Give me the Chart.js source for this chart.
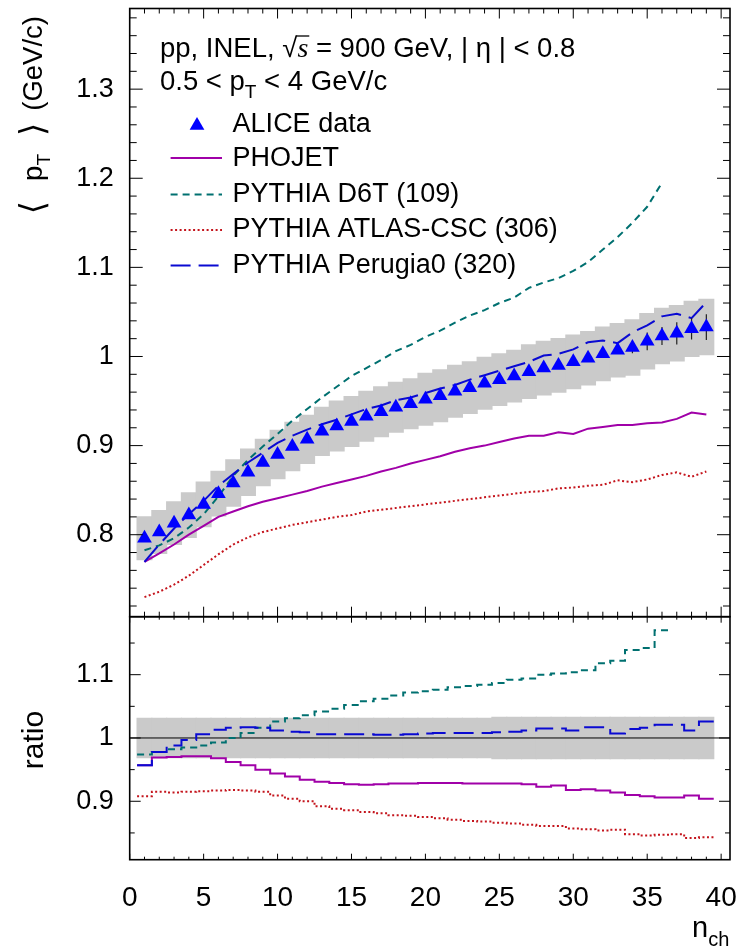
<!DOCTYPE html>
<html>
<head>
<meta charset="utf-8">
<script src="https://cdn.jsdelivr.net/npm/chart.js@4.4.1/dist/chart.umd.min.js"></script>
<style>
  body { margin: 0; background: #fff; }
  #page { position: relative; width: 741px; height: 951px; }
  .panneau { position: absolute; left: 0; }
</style>
</head>
<body>
<div id="page">
  <canvas id="haut" class="panneau" style="top:0" width="741" height="640"></canvas>
  <canvas id="bas" class="panneau" style="top:590px" width="741" height="361"></canvas>
</div>
<script>
// multiplicité chargée
const nch = [1, 2, 3, 4, 5, 6, 7, 8, 9, 10, 11, 12, 13, 14, 15, 16, 17, 18, 19, 20,
  21, 22, 23, 24, 25, 26, 27, 28, 29, 30, 31, 32, 33, 34, 35, 36, 37, 38, 39];

// <pT> ALICE (GeV/c), erreurs stat et syst
const aliceData = [0.796, 0.803, 0.813, 0.822, 0.834, 0.846, 0.858, 0.870, 0.881, 0.890,
  0.899, 0.907, 0.916, 0.922, 0.927, 0.933, 0.938, 0.943, 0.947, 0.952,
  0.956, 0.961, 0.965, 0.970, 0.974, 0.978, 0.983, 0.987, 0.990, 0.994,
  0.998, 1.003, 1.007, 1.010, 1.017, 1.023, 1.026, 1.031, 1.033];
const aliceStat = [0.002, 0.002, 0.002, 0.002, 0.002, 0.002, 0.002, 0.002, 0.002, 0.002,
  0.002, 0.002, 0.002, 0.002, 0.002, 0.002, 0.002, 0.003, 0.003, 0.003,
  0.003, 0.003, 0.003, 0.003, 0.003, 0.003, 0.003, 0.003, 0.003, 0.004,
  0.004, 0.004, 0.004, 0.0065, 0.010, 0.010, 0.0125, 0.012, 0.0145];
const aliceSyst = [0.024, 0.024, 0.024, 0.025, 0.025, 0.025, 0.026, 0.026, 0.026, 0.027,
  0.027, 0.027, 0.027, 0.028, 0.028, 0.028, 0.028, 0.028, 0.028, 0.029,
  0.029, 0.029, 0.029, 0.029, 0.029, 0.029, 0.030, 0.030, 0.030, 0.030,
  0.030, 0.030, 0.030, 0.031, 0.031, 0.031, 0.031, 0.031, 0.031];

// modèles
const phojet = [0.7695, 0.779, 0.789, 0.800, 0.810, 0.820, 0.826, 0.832, 0.837, 0.841,
  0.845, 0.849, 0.854, 0.858, 0.862, 0.866, 0.871, 0.875, 0.880, 0.884,
  0.888, 0.893, 0.897, 0.900, 0.904, 0.908, 0.911, 0.911, 0.915, 0.913,
  0.919, 0.921, 0.923, 0.923, 0.925, 0.926, 0.930, 0.937, 0.935];
const d6t = [0.7825, 0.788, 0.796, 0.808, 0.823, 0.843, 0.866, 0.884, 0.899, 0.913,
  0.928, 0.941, 0.954, 0.966, 0.978, 0.987, 0.996, 1.006, 1.013, 1.022,
  1.029, 1.038, 1.046, 1.052, 1.060, 1.066, 1.077, 1.083, 1.088, 1.096,
  1.106, 1.120, 1.134, 1.150, 1.168, 1.195];
const atlasCsc = [0.730, 0.736, 0.744, 0.754, 0.766, 0.778, 0.789, 0.797, 0.803, 0.807,
  0.811, 0.814, 0.817, 0.820, 0.822, 0.826, 0.828, 0.830, 0.832, 0.834,
  0.836, 0.838, 0.840, 0.842, 0.844, 0.846, 0.848, 0.849, 0.852, 0.853,
  0.855, 0.856, 0.861, 0.859, 0.862, 0.867, 0.870, 0.865, 0.871];
const perugia0 = [0.7695, 0.789, 0.807, 0.823, 0.838, 0.855, 0.868, 0.881, 0.892, 0.903,
  0.911, 0.918, 0.924, 0.929, 0.935, 0.941, 0.945, 0.951, 0.954, 0.959,
  0.964, 0.968, 0.974, 0.979, 0.984, 0.989, 0.994, 1.001, 1.003, 1.008,
  1.016, 1.018, 1.015, 1.027, 1.035, 1.045, 1.048, 1.043, 1.061];

// rapports modèle / données
const ratioPhojet = [0.957, 0.969, 0.970, 0.971, 0.971, 0.968, 0.962, 0.957, 0.950, 0.944,
  0.939, 0.934, 0.931, 0.929, 0.927, 0.926, 0.927, 0.928, 0.928, 0.929,
  0.929, 0.929, 0.928, 0.928, 0.928, 0.928, 0.927, 0.923, 0.925, 0.918,
  0.919, 0.917, 0.914, 0.910, 0.908, 0.906, 0.906, 0.909, 0.904];
const ratioD6t = [0.974, 0.978, 0.982, 0.985, 0.988, 0.993, 1.000, 1.008, 1.016, 1.026,
  1.031, 1.036, 1.042, 1.046, 1.052, 1.058, 1.062, 1.067, 1.072, 1.074,
  1.076, 1.080, 1.082, 1.084, 1.087, 1.092, 1.094, 1.100, 1.102, 1.104,
  1.107, 1.118, 1.122, 1.139, 1.142, 1.170];
const ratioAtlas = [0.908, 0.915, 0.914, 0.915, 0.916, 0.917, 0.918, 0.917, 0.915, 0.909,
  0.904, 0.900, 0.892, 0.888, 0.886, 0.883, 0.881, 0.878, 0.877, 0.875,
  0.873, 0.871, 0.869, 0.868, 0.866, 0.865, 0.863, 0.861, 0.861, 0.857,
  0.856, 0.854, 0.855, 0.848, 0.846, 0.847, 0.848, 0.842, 0.843];
const ratioPerugia = [0.957, 0.978, 0.988, 0.997, 1.006, 1.013, 1.016, 1.017, 1.016, 1.012,
  1.010, 1.009, 1.006, 1.006, 1.006, 1.006, 1.005, 1.005, 1.006, 1.007,
  1.008, 1.008, 1.008, 1.008, 1.009, 1.010, 1.012, 1.015, 1.015, 1.012,
  1.017, 1.017, 1.007, 1.014, 1.016, 1.021, 1.021, 1.012, 1.026];
const ratioSyst = [0.031, 0.031, 0.031, 0.031, 0.031, 0.031, 0.031, 0.031, 0.031, 0.031,
  0.031, 0.031, 0.031, 0.031, 0.031, 0.031, 0.031, 0.031, 0.031, 0.031,
  0.031, 0.031, 0.031, 0.031, 0.0325, 0.0325, 0.0325, 0.0325, 0.0325, 0.0325,
  0.0325, 0.0325, 0.0325, 0.0325, 0.0325, 0.0325, 0.0325, 0.0325, 0.0325];

// graduations
const xTicks = [0, 5, 10, 15, 20, 25, 30, 35, 40];
const yTicksHaut = [0.8, 0.9, 1, 1.1, 1.2, 1.3];
const yTicksBas = [0.9, 1, 1.1];

const POLICE = '"Liberation Sans", Arial, Helvetica, sans-serif';
const SERIF = '"Liberation Serif", "Times New Roman", serif';
const GRIS = "#cacaca";
const VIOLET = "#a000a8";
const SARCELLE = "#007070";
const ROUGE = "#c4141c";
const BLEU = "#0a0ad2";

function pointsCentres(valeurs) {
  return valeurs.map((v, i) => ({ x: nch[i], y: v }));
}

// histogramme : un point par bord gauche de bin, plus le dernier bord droit
function pointsMarches(valeurs) {
  const pts = valeurs.map((v, i) => ({ x: nch[i] - 0.5, y: v }));
  const der = valeurs.length - 1;
  pts.push({ x: nch[der] + 0.5, y: valeurs[der] });
  return pts;
}

function boites(centres, demi) {
  return demi.map((s, i) => ({ x: nch[i], y: [centres[i] - s, centres[i] + s] }));
}

function echelleX(visible, hauteur) {
  return {
    type: "linear", min: 0, max: 40.6, display: visible, offset: false,
    grid: { display: false, drawTicks: false, offset: false },
    border: { display: false },
    afterBuildTicks: s => { s.ticks = xTicks.map(v => ({ value: v })); },
    afterFit: s => { s.height = hauteur; s.paddingLeft = 0; s.paddingRight = 0; },
    ticks: { color: "#000", padding: 22, maxRotation: 0, autoSkip: false,
      font: { family: POLICE, size: 28 } }
  };
}

function echelleY(min, max, ticks) {
  return {
    type: "linear", min: min, max: max,
    grid: { display: false, drawTicks: false },
    border: { display: false },
    afterBuildTicks: s => { s.ticks = ticks.map(v => ({ value: v })); },
    afterFit: s => { s.width = 129.7; s.paddingTop = 0; s.paddingBottom = 0; },
    ticks: { color: "#000", padding: 16, font: { family: POLICE, size: 27 },
      callback: v => String(v) }
  };
}

// texte avec indices : morceaux {t, taille, dy, style, famille, apres}
function texteRiche(ctx, morceaux, x, y) {
  let cx = x;
  morceaux.forEach(m => {
    ctx.font = (m.style || "") + " " + m.taille + "px " + (m.famille || POLICE);
    if (m.t) ctx.fillText(m.t, cx, y + (m.dy || 0));
    cx += (m.t ? ctx.measureText(m.t).width : 0) + (m.apres || 0);
  });
  return cx;
}

function largeurRiche(ctx, morceaux) {
  let l = 0;
  morceaux.forEach(m => {
    ctx.font = (m.style || "") + " " + m.taille + "px " + (m.famille || POLICE);
    l += (m.t ? ctx.measureText(m.t).width : 0) + (m.apres || 0);
  });
  return l;
}

function triangle(ctx, x, y, r) {
  ctx.beginPath();
  ctx.moveTo(x, y - r);
  ctx.lineTo(x + r * Math.sin(Math.PI / 3), y + r / 2);
  ctx.lineTo(x - r * Math.sin(Math.PI / 3), y + r / 2);
  ctx.closePath();
  ctx.fill();
}

// cadre ROOT avec graduations vers l'intérieur
const cadrePlugin = {
  id: "cadre",
  afterDatasetsDraw(chart, args, o) {
    const { ctx, chartArea: a, scales } = chart;
    const sx = scales.x, sy = scales.y;
    ctx.save();
    ctx.strokeStyle = "#000";
    ctx.lineWidth = 1;
    ctx.beginPath();
    for (let v = 0; v <= sx.max; v += 1) {
      const px = sx.getPixelForValue(v);
      const l = v % 5 === 0 ? o.xMajeur : o.xMineur;
      ctx.moveTo(px, a.bottom); ctx.lineTo(px, a.bottom - l);
      ctx.moveTo(px, a.top); ctx.lineTo(px, a.top + l);
    }
    const k0 = Math.ceil(sy.min / o.yPas - 1e-6);
    for (let k = k0; k * o.yPas <= sy.max + 1e-9; k++) {
      const v = k * o.yPas;
      const py = sy.getPixelForValue(v);
      const r = v / o.yMajeurPas;
      const l = Math.abs(r - Math.round(r)) < 1e-6 ? o.yMajeur : o.yMineur;
      ctx.moveTo(a.left, py); ctx.lineTo(a.left + l, py);
      ctx.moveTo(a.right, py); ctx.lineTo(a.right - l, py);
    }
    ctx.stroke();
    ctx.lineWidth = 1.6;
    ctx.strokeRect(a.left, a.top, a.right - a.left, a.bottom - a.top);
    ctx.restore();
  }
};

// barres d'erreur stat, dessinées sous les triangles ; ligne à 1 sur le rapport
const erreursPlugin = {
  id: "erreurs",
  beforeDatasetDraw(chart, args, o) {
    if (o.index === undefined || args.index !== o.index) return;
    const { ctx, scales } = chart;
    ctx.save();
    ctx.strokeStyle = "#222";
    ctx.lineWidth = 1.2;
    ctx.beginPath();
    aliceData.forEach((v, i) => {
      const px = scales.x.getPixelForValue(nch[i]);
      ctx.moveTo(px, scales.y.getPixelForValue(v - aliceStat[i]));
      ctx.lineTo(px, scales.y.getPixelForValue(v + aliceStat[i]));
    });
    ctx.stroke();
    ctx.restore();
  },
  afterDatasetDraw(chart, args, o) {
    if (o.unite === undefined || args.index !== o.unite) return;
    const { ctx, chartArea: a, scales } = chart;
    const py = scales.y.getPixelForValue(1);
    ctx.save();
    ctx.strokeStyle = "#000";
    ctx.lineWidth = 1;
    ctx.beginPath();
    ctx.moveTo(a.left, py); ctx.lineTo(a.right, py);
    ctx.stroke();
    ctx.restore();
  }
};

// textes du panneau du haut : en-tête, légende, titre d'axe
const textesHautPlugin = {
  id: "textesHaut",
  afterDraw(chart) {
    const ctx = chart.ctx;
    const ds = chart.data.datasets;
    ctx.save();
    ctx.fillStyle = "#000";
    ctx.textBaseline = "alphabetic";
    // en-tête
    let x = texteRiche(ctx, [{ t: "pp, INEL, ", taille: 27.5 }, { t: "\u221A", taille: 27.5 }], 160, 56.5);
    ctx.font = "italic 28px " + SERIF;
    const ls = ctx.measureText("s").width;
    ctx.fillText("s", x, 56.5);
    ctx.lineWidth = 1.3;
    ctx.strokeStyle = "#000";
    ctx.beginPath();
    ctx.moveTo(x - 1, 36); ctx.lineTo(x + ls + 1, 36);
    ctx.stroke();
    texteRiche(ctx, [{ t: " = 900 GeV, | \u03B7 | < 0.8", taille: 27.5 }], x + ls, 56.5);
    texteRiche(ctx, [
      { t: "0.5 < p", taille: 27.5 }, { t: "T", taille: 19, dy: 8 }, { t: " < 4 GeV/c", taille: 27.5 }
    ], 160, 89.7);

    // légende
    const lignes = [
      { index: 5, y: 123.5, base: 131.6 },
      { index: 1, y: 158, base: 166.4 },
      { index: 2, y: 194.5, base: 201.6 },
      { index: 3, y: 230, base: 237 },
      { index: 4, y: 265.6, base: 272.7 }
    ];
    lignes.forEach(l => {
      const d = ds[l.index];
      if (d.pointStyle === "triangle") {
        ctx.fillStyle = d.backgroundColor;
        triangle(ctx, 197, l.y + 2, d.pointRadius);
      } else {
        ctx.strokeStyle = d.borderColor;
        ctx.lineWidth = d.borderWidth;
        ctx.setLineDash(d.borderDash || []);
        ctx.beginPath();
        ctx.moveTo(170.6, l.y); ctx.lineTo(222, l.y);
        ctx.stroke();
        ctx.setLineDash([]);
      }
      ctx.fillStyle = "#000";
      ctx.font = "27px " + POLICE;
      ctx.fillText(d.label, 232.6, l.base);
    });

    // titre de l'axe y, tourné
    const titre = [
      { t: "\u27E8", taille: 34, famille: '"DejaVu Sans", sans-serif', dy: 2, apres: 20 },
      { t: "p", taille: 27.5 }, { t: "T", taille: 19, dy: 8, apres: 18 },
      { t: "\u27E9", taille: 34, famille: '"DejaVu Sans", sans-serif', dy: 2, apres: 12 },
      { t: "(GeV/c)", taille: 27.5 }
    ];
    const lt = largeurRiche(ctx, titre);
    ctx.translate(42, 16 + lt);
    ctx.rotate(-Math.PI / 2);
    ctx.fillStyle = "#000";
    texteRiche(ctx, titre, 0, 0);
    ctx.restore();
  }
};

const textesBasPlugin = {
  id: "textesBas",
  afterDraw(chart) {
    const ctx = chart.ctx;
    ctx.save();
    ctx.fillStyle = "#000";
    ctx.textBaseline = "alphabetic";
    texteRiche(ctx, [{ t: "n", taille: 29 }, { t: "ch", taille: 20, dy: 9 }], 692, 346.7);
    ctx.translate(43, 150);
    ctx.rotate(-Math.PI / 2);
    ctx.font = "30px " + POLICE;
    ctx.textAlign = "center";
    ctx.fillText("ratio", 0, 0);
    ctx.restore();
  }
};

function ligne(label, valeurs, couleur, tirets, marches) {
  return {
    type: "line",
    label: label,
    data: marches ? pointsMarches(valeurs) : pointsCentres(valeurs),
    borderColor: couleur,
    borderWidth: 2,
    borderDash: tirets,
    pointRadius: 0,
    tension: 0,
    stepped: marches ? "before" : false,
    fill: false
  };
}

function bande(centres, demi) {
  return {
    type: "bar", label: "syst", data: boites(centres, demi),
    backgroundColor: GRIS, borderWidth: 0, inflateAmount: 0.6,
    barPercentage: 1, categoryPercentage: 1, order: 10
  };
}

function dessinerHaut() {
  const ctx = document.getElementById("haut").getContext("2d");
  new Chart(ctx, {
    type: "line",
    data: {
      datasets: [
        bande(aliceData, aliceSyst),
        Object.assign(ligne("PHOJET", phojet, VIOLET, []), { order: 5 }),
        Object.assign(ligne("PYTHIA D6T (109)", d6t, SARCELLE, [7, 5]), { order: 4 }),
        Object.assign(ligne("PYTHIA ATLAS-CSC (306)", atlasCsc, ROUGE, [2, 2.5]), { order: 3 }),
        Object.assign(ligne("PYTHIA Perugia0 (320)", perugia0, BLEU, [20, 8]), { order: 2 }),
        {
          type: "line", label: "ALICE data", data: pointsCentres(aliceData),
          showLine: false, pointStyle: "triangle", pointRadius: 8.5,
          backgroundColor: "#0000ff", borderWidth: 0, order: 0
        }
      ]
    },
    options: {
      responsive: false,
      animation: false,
      events: [],
      layout: { padding: { left: 0, right: 11, top: 8, bottom: 23.3 } },
      scales: {
        x: echelleX(false, 0),
        y: echelleY(0.708, 1.3905, yTicksHaut)
      },
      plugins: {
        legend: { display: false },
        tooltip: { enabled: false },
        cadre: { xMajeur: 10, xMineur: 5, yPas: 0.02, yMajeurPas: 0.1, yMajeur: 13, yMineur: 7 },
        erreurs: { index: 5 }
      }
    },
    plugins: [cadrePlugin, erreursPlugin, textesHautPlugin]
  });
}

function dessinerBas() {
  const ctx = document.getElementById("bas").getContext("2d");
  new Chart(ctx, {
    type: "line",
    data: {
      datasets: [
        bande(ratioSyst.map(() => 1), ratioSyst),
        Object.assign(ligne("PHOJET", ratioPhojet, VIOLET, [], true), { order: 5 }),
        Object.assign(ligne("PYTHIA D6T (109)", ratioD6t, SARCELLE, [7, 5], true), { order: 4 }),
        Object.assign(ligne("PYTHIA ATLAS-CSC (306)", ratioAtlas, ROUGE, [2, 2.5], true), { order: 3 }),
        Object.assign(ligne("PYTHIA Perugia0 (320)", ratioPerugia, BLEU, [20, 8], true), { order: 2 })
      ]
    },
    options: {
      responsive: false,
      animation: false,
      events: [],
      layout: { padding: { left: 0, right: 11, top: 26.7, bottom: 0 } },
      scales: {
        x: echelleX(true, 91.3),
        y: echelleY(0.8077, 1.1916, yTicksBas)
      },
      plugins: {
        legend: { display: false },
        tooltip: { enabled: false },
        cadre: { xMajeur: 6, xMineur: 3, yPas: 0.05, yMajeurPas: 0.1, yMajeur: 11, yMineur: 5 },
        erreurs: { unite: 0 }
      }
    },
    plugins: [cadrePlugin, erreursPlugin, textesBasPlugin]
  });
}

document.addEventListener("DOMContentLoaded", () => {
  dessinerHaut();
  dessinerBas();
});
</script>
</body>
</html>
